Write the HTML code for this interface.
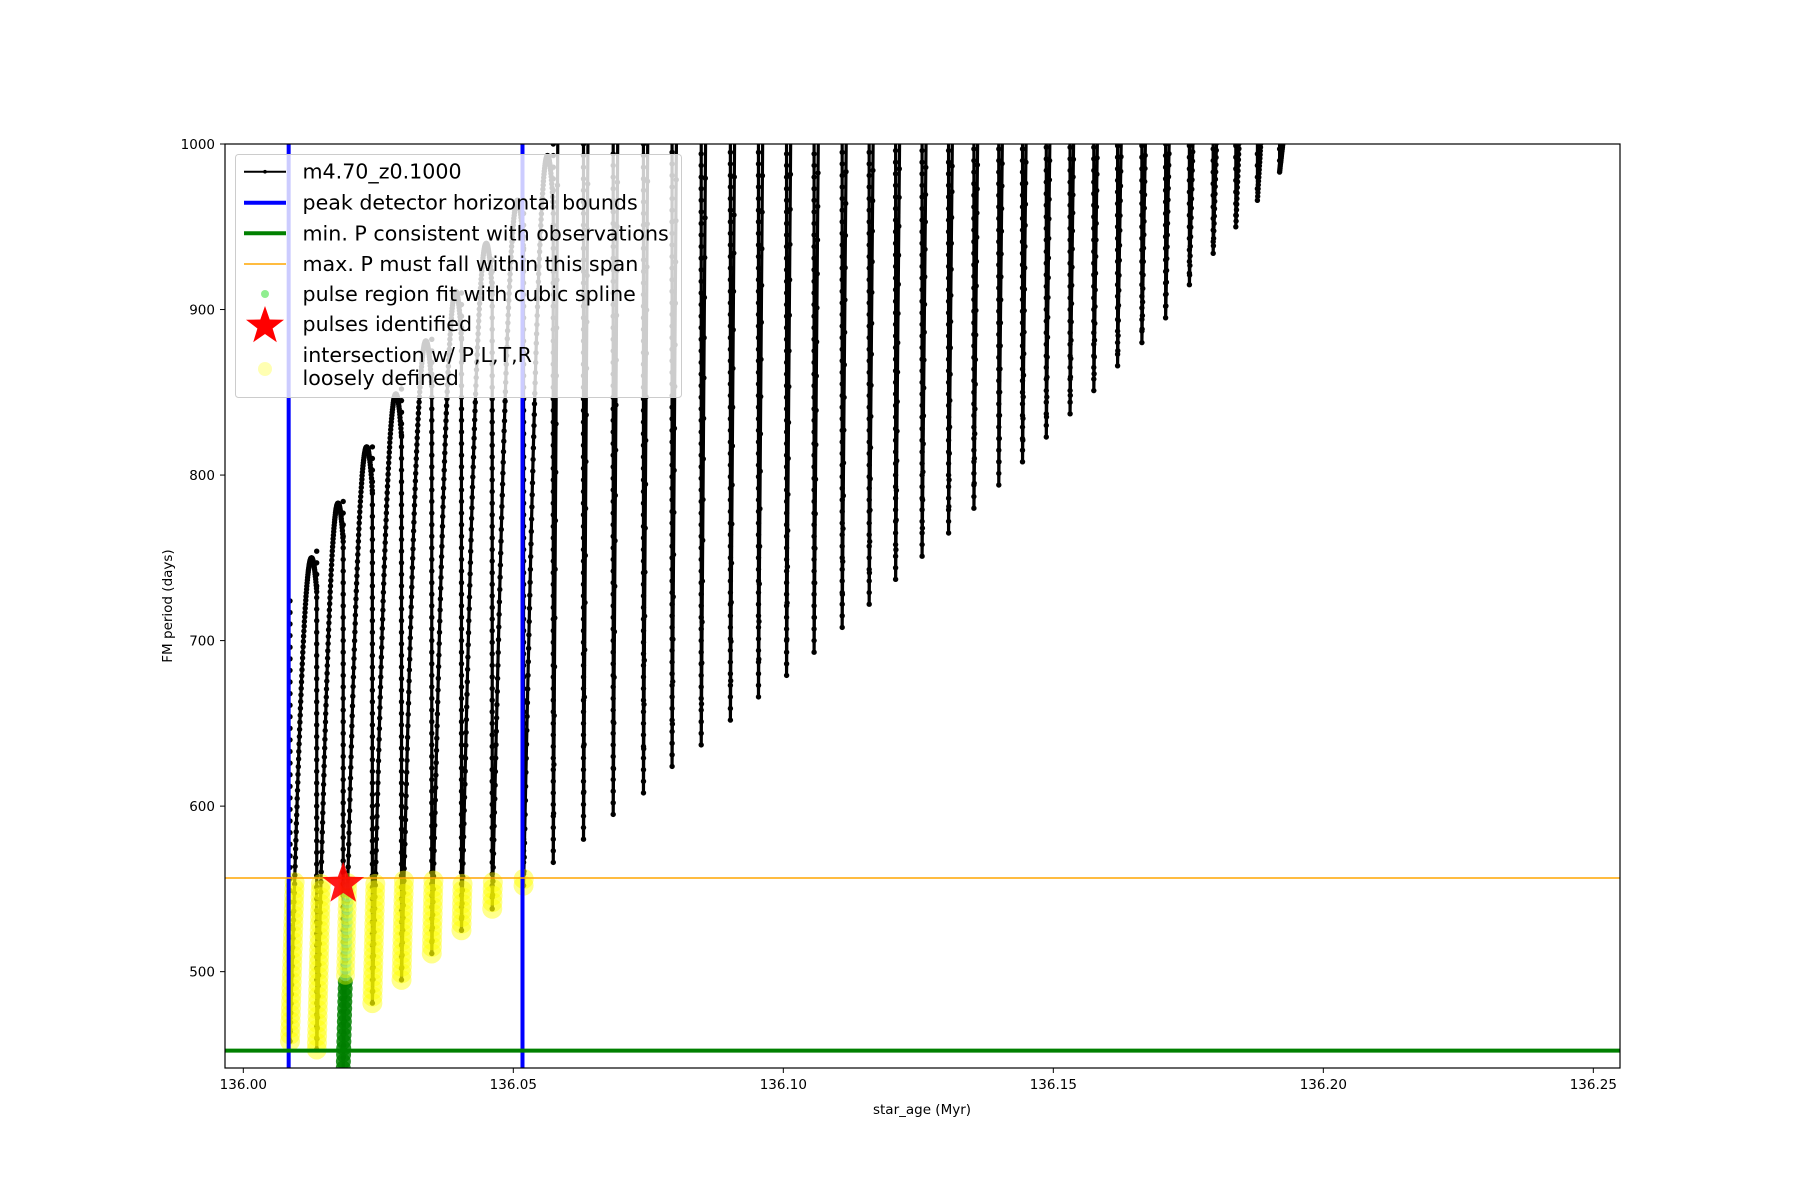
<!DOCTYPE html>
<html><head><meta charset="utf-8"><style>
html,body{margin:0;padding:0;background:#fff;}
svg{display:block;font-family:"DejaVu Sans","Liberation Sans",sans-serif;}
</style></head><body>
<svg id="chart" width="1800" height="1200" viewBox="0 0 1800 1200" xmlns="http://www.w3.org/2000/svg">
<defs><clipPath id="plotclip"><rect x="225" y="144" width="1395" height="924"/></clipPath></defs>
<rect width="1800" height="1200" fill="#fff"/>
<g id="plot" clip-path="url(#plotclip)"></g>
<rect x="225" y="144" width="1395" height="924" fill="none" stroke="#000" stroke-width="1.2"/>
<g id="ticks"></g>
<text x="922" y="1114" font-size="13.5" text-anchor="middle">star_age (Myr)</text>
<text transform="translate(172,606) rotate(-90)" font-size="13.5" text-anchor="middle">FM period (days)</text>
<g>
<rect x="235.5" y="154.5" width="446" height="243" rx="3" fill="#fff" fill-opacity="0.8" stroke="#ccc" stroke-width="1"/>
<line x1="244" y1="171.7" x2="286" y2="171.7" stroke="#000" stroke-width="2"/><circle cx="265" cy="171.7" r="1.8" fill="#000"/>
<text x="302.5" y="178.7" font-size="20.6">m4.70_z0.1000</text>
<line x1="244" y1="202.7" x2="286" y2="202.7" stroke="#0000ff" stroke-width="4"/>
<text x="302.5" y="209.7" font-size="20.6">peak detector horizontal bounds</text>
<line x1="244" y1="233.3" x2="286" y2="233.3" stroke="#008000" stroke-width="4"/>
<text x="302.5" y="240.3" font-size="20.6">min. P consistent with observations</text>
<line x1="244" y1="264" x2="286" y2="264" stroke="#ffa500" stroke-width="1.5"/>
<text x="302.5" y="271" font-size="20.6">max. P must fall within this span</text>
<circle cx="265" cy="294" r="4" fill="#90ee90"/>
<text x="302.5" y="301" font-size="20.6">pulse region fit with cubic spline</text>
<polygon id="legstar" fill="#ff0000"/>
<text x="302.5" y="331" font-size="20.6">pulses identified</text>
<circle cx="265" cy="369" r="7" fill="#ffff00" fill-opacity="0.3"/>
<text x="302.5" y="362" font-size="20.6">intersection w/ P,L,T,R</text>
<text x="302.5" y="385" font-size="20.6">loosely defined</text>
</g>
</svg>
<script>
const pulseTimes = [0.00865,0.0136,0.0185,0.0239,0.0293,0.0349,0.0404,0.0461,0.0519,
 0.0574,0.0630,0.0685,0.0741,0.0794,0.0848,0.0902,0.0954,0.1006,0.1057,0.1109,0.1159,0.1208,0.1257,0.1306,0.1353,0.1399,
 0.1443,0.1487,0.1531,0.1575,0.1619,0.1664,0.1708,0.1752,0.1796,0.1838,0.1878,0.1919];
const pulseMinima = [458,453,441,481,495,511,525,538,552,
 566,580,595,608,624,637,652,666,679,693,708,722,737,751,765,780,794,
 808,823,837,851,866,880,895,915,934,950,966,983];
const pulsePeaks = [750,783,817,849,881,911,940,966,993,
 2085,2050,2013,1980,1940,1908,1870,1835,1803,1768,1730,1695,1658,1623,1588,1550,1515,
 1480,1443,1408,1373,1335,1300,1263,1213,1165,1125,1085,1043];
const xTicks = [136.00,136.05,136.10,136.15,136.20,136.25];
const yTicks = [500,600,700,800,900,1000];
const boundsX = [136.0084,136.0517];
const minP = 452.3;
const maxP = 556.6;
const starPoint = [136.0185,553];
const greenCycle = 2;
const greenCut = 497;
const nYellow = 9;

const NS="http://www.w3.org/2000/svg";
const X0=135.99661,X1=136.25494,Y0=441.8,Y1=1000;
function sx(t){return 225+(t-X0)/(X1-X0)*1395;}
function sy(v){return 1068-(v-Y0)/(Y1-Y0)*924;}
function mk(tag,attrs,parent){const e=document.createElementNS(NS,tag);for(const k in attrs)e.setAttribute(k,attrs[k]);parent.appendChild(e);return e;}
const plot=document.getElementById('plot');
const ticks=document.getElementById('ticks');
const A=0.62*Math.PI;

let d="";const dots=[];
let prev=null;
for(let i=0;i<pulseTimes.length;i++){
  const t0=136+pulseTimes[i];
  const t1=i<pulseTimes.length-1?136+pulseTimes[i+1]:t0+0.004;
  const mn=pulseMinima[i],pk=pulsePeaks[i];
  if(prev===null)d+="M"+sx(t0).toFixed(2)+","+sy(mn).toFixed(2);
  else d+="L"+sx(t0).toFixed(2)+","+sy(mn).toFixed(2);
  const N=200;
  for(let k=1;k<=N;k++){
    const s=k/N;
    const t=t0+(t1-t0)*s*0.999;
    const v=mn+(pk-mn)*Math.sin(A*s);
    const px=sx(t),py=sy(v);
    d+="L"+px.toFixed(2)+","+py.toFixed(2);
    if(py>130 && k%2===0)dots.push([px,py]);
    prev=v;
  }
  for(let v=mn;v<Math.min(prev,1010);v+=7)dots.push([sx(t0),sy(v)]);
}
const line=mk('path',{d:d,fill:'none',stroke:'#000','stroke-width':3.2},plot);


const dg=mk('g',{fill:'#000'},plot);


for(const p of dots){mk('circle',{cx:p[0].toFixed(1),cy:p[1].toFixed(1),r:2.7},dg);}

const yg=mk('g',{},plot);


for(let i=0;i<nYellow;i++){
  const t0=136+pulseTimes[i],t1=136+pulseTimes[i+1];
  const mn=pulseMinima[i],pk=pulsePeaks[i];
  for(let v=Math.max(mn,Y0);v<=maxP;v+=4){
    const s=Math.asin(Math.min(1,(v-mn)/(pk-mn)))/A;
    const t=t0+(t1-t0)*s;
    if(i===greenCycle){
      if(v<greenCut){mk('circle',{cx:sx(t),cy:sy(v),r:7.5,fill:'#008000','fill-opacity':0.85},yg);}
      else{mk('circle',{cx:sx(t),cy:sy(v),r:9.5,fill:'#ffff00','fill-opacity':0.4},yg);
           mk('circle',{cx:sx(t),cy:sy(v),r:6,fill:'#90ee90','fill-opacity':0.5},yg);}
    } else {
      mk('circle',{cx:sx(t),cy:sy(v),r:10,fill:'#ffff00','fill-opacity':0.45},yg);
    }
  }
}

boundsX.forEach((b,i)=>{
  const l=mk('line',{x1:sx(b),x2:sx(b),y1:144,y2:1068,stroke:'#0000ff','stroke-width':4},plot);
  
  
});
const gl=mk('line',{x1:225,x2:1620,y1:sy(minP),y2:sy(minP),stroke:'#008000','stroke-width':4},plot);


const ol=mk('line',{x1:225,x2:1620,y1:sy(maxP),y2:sy(maxP),stroke:'#ffa500','stroke-width':1.5},plot);



function starPts(cx,cy,R,r){let p=[];for(let k=0;k<10;k++){const a=-Math.PI/2+k*Math.PI/5;const rr=k%2?r:R;p.push((cx+rr*Math.cos(a)).toFixed(1)+","+(cy+rr*Math.sin(a)).toFixed(1));}return p.join(" ");}
const st=mk('polygon',{points:starPts(sx(starPoint[0]),sy(starPoint[1]),22,9),fill:'#ff0000','fill-opacity':0.9},plot);


document.getElementById('legstar').setAttribute('points',starPts(265,326,20,8));

xTicks.forEach(v=>{
  const x=sx(v);
  mk('line',{x1:x,x2:x,y1:1068,y2:1073,stroke:'#000','stroke-width':1},ticks);
  const t=mk('text',{x:x,y:1089,'font-size':13.5,'text-anchor':'middle'},ticks);
  t.textContent=v.toFixed(2);
  
  
});
yTicks.forEach(v=>{
  const y=sy(v);
  mk('line',{x1:220,x2:225,y1:y,y2:y,stroke:'#000','stroke-width':1},ticks);
  const t=mk('text',{x:215,y:y+5,'font-size':13.5,'text-anchor':'end'},ticks);
  t.textContent=String(v);
  
  
});
</script>
</body></html>
